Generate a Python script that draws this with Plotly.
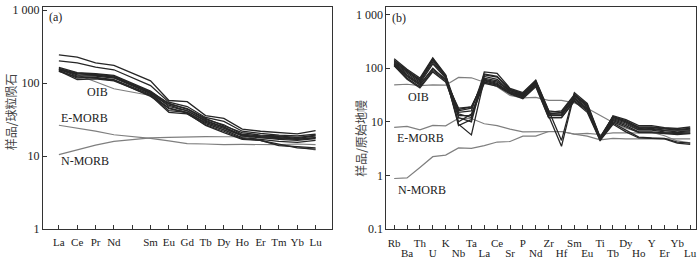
import plotly.graph_objects as go

# ---------------- data: panel (a) chondrite-normalised REE ----------------
ree_ticks = ["La", "Ce", "Pr", "Nd", "", "Sm", "Eu", "Gd", "Tb", "Dy", "Ho", "Er", "Tm", "Yb", "Lu"]
ree_elems = ["La", "Ce", "Pr", "Nd", "Sm", "Eu", "Gd", "Tb", "Dy", "Ho", "Er", "Tm", "Yb", "Lu"]

ree_samples = [
    [245, 228, 190, 176, 108, 58, 56, 36, 33, 23.5, 22, 21, 20.3, 22.5],
    [203, 190, 166, 153, 93, 55, 48, 34, 30, 22, 20.5, 19.5, 19, 20],
    [165, 140, 135, 128, 78, 52, 45, 33, 26, 21, 19.5, 19, 18, 19.5],
    [160, 130, 128, 122, 75, 48, 42, 30, 25, 19.5, 18.5, 18, 17, 18],
    [155, 125, 125, 118, 72, 45, 40, 29, 24, 19, 18, 17, 16.5, 17.5],
    [150, 118, 120, 112, 70, 42, 40, 28, 23, 18, 17, 16, 15.5, 16.5],
    [148, 112, 115, 108, 68, 40, 38, 27, 22, 17.5, 16.5, 14, 13.5, 13],
    [152, 135, 130, 120, 74, 50, 42, 31, 25, 19, 18, 17.5, 17, 18],
    [145, 122, 118, 110, 66, 46, 39, 26.5, 21, 17, 16.5, 14.5, 13, 12.5],
    [158, 138, 132, 125, 76, 53, 44, 32, 27, 20, 19, 18.5, 17.5, 19],
]
ree_oib = [156, 130, 105, 84, 68, 53, 38, 29, 23, 19.4, 16.4, 14.2, 13.4, 12.2]
ree_emorb = [26.6, 24.5, 22.1, 19.7, 17.6, 16.2, 14.9, 14.7, 14.4, 14.5, 14.4, 14.4, 14.7, 14.4]
ree_nmorb = [10.5, 12.2, 14.2, 16.0, 17.8, 18.1, 18.5, 18.6, 18.5, 18.5, 18.6, 18.5, 18.9, 18.5]

# ---------------- data: panel (b) primitive-mantle-normalised spider ----------------
spd_elems = ["Rb", "Ba", "Th", "U", "K", "Nb", "Ta", "La", "Ce", "Sr", "P", "Nd",
             "Zr", "Hf", "Sm", "Eu", "Ti", "Tb", "Dy", "Ho", "Y", "Er", "Yb", "Lu"]
spd_samples = [
    [150, 95, 65, 155, 75, 9, 5.7, 62, 55, 38, 32, 55, 13, 3.5, 33, 20, 4.6, 13, 11, 8.5, 8.5, 7.8, 7.5, 8],
    [140, 90, 60, 150, 70, 8.5, 11, 85, 80, 42, 35, 60, 16, 4.5, 35, 22, 5.2, 12.5, 10.5, 8, 8, 7.5, 7.2, 7.5],
    [130, 85, 58, 140, 72, 12, 10, 75, 68, 40, 33, 58, 15, 16, 32, 21, 5, 12, 10, 7.8, 7.5, 7, 7, 7],
    [125, 80, 55, 130, 68, 14, 12, 70, 62, 38, 32, 55, 14, 15, 30, 19, 4.8, 11.5, 9.5, 7.2, 7.2, 6.8, 6.5, 6.8],
    [120, 75, 52, 120, 65, 16, 18, 65, 58, 36, 31, 52, 14, 14, 28, 18, 5, 11, 9, 7, 7, 6.5, 6.3, 6.5],
    [115, 70, 48, 100, 60, 17, 19, 60, 52, 35, 30, 50, 13, 13, 27, 17, 4.7, 10.5, 8.5, 6.5, 6.5, 6.2, 6, 6.2],
    [112, 65, 45, 90, 58, 18, 19, 55, 48, 34, 28, 48, 12, 12, 25, 16, 4.6, 10, 8, 6.3, 6.3, 6, 5.8, 6],
    [110, 62, 43, 85, 55, 13, 13, 52, 46, 33, 27, 45, 12, 12, 24, 15, 4.5, 9, 6.5, 5, 4.9, 4.8, 4, 3.8],
    [118, 72, 50, 95, 62, 10, 14, 58, 50, 35, 29, 50, 13.5, 13.5, 27, 17, 4.6, 9.5, 7, 5.2, 5, 4.9, 4.2, 4],
    [135, 88, 62, 145, 73, 15, 16, 78, 70, 40, 34, 57, 16, 15, 31, 20, 5.1, 12.5, 10, 7.5, 7.8, 7.3, 7, 7.3],
]
spd_oib = [48.8, 50, 47, 48.6, 48, 67, 66, 54, 45, 31, 28, 28.4, 25, 25, 22.5, 17.9, 13.2, 9.7, 7.6, 6.5, 6.4, 5.5, 4.4, 4.05]
spd_emorb = [7.9, 8.2, 7.1, 8.6, 8.4, 11.6, 11.5, 9.2, 8.5, 7.3, 6.5, 6.6, 6.5, 6.6, 5.9, 5.4, 4.6, 4.9, 4.8, 4.8, 4.8, 4.8, 4.8, 4.8]
spd_nmorb = [0.88, 0.9, 1.41, 2.24, 2.4, 3.27, 3.2, 3.6, 4.2, 4.3, 5.4, 5.4, 6.6, 6.6, 5.9, 6.1, 5.8, 6.2, 6.2, 6.2, 6.2, 6.2, 6.2, 6.1]

# ---------------- style ----------------
SERIF = "Liberation Serif"
CJK = "Noto Sans CJK SC"
TXT = "#222222"
DARK = "#262626"
GREY = "#7f7f7f"

ree_x = [ree_ticks.index(e) for e in ree_elems]
spd_x = list(range(len(spd_elems)))

fig = go.Figure()

# invisible trace to carry the second-row label axis (drawn first, beneath)
fig.add_trace(go.Scatter(x=[0], y=[1], xaxis="x3", yaxis="y2", mode="markers",
                         marker=dict(opacity=0), showlegend=False, hoverinfo="skip"))

def add(x, y, xa, ya, color, width):
    fig.add_trace(go.Scatter(x=x, y=y, xaxis=xa, yaxis=ya, mode="lines",
                             line=dict(color=color, width=width), showlegend=False,
                             hoverinfo="skip"))

for ref in (ree_oib, ree_emorb, ree_nmorb):
    add(ree_x, ref, "x", "y", GREY, 1.2)
for s in ree_samples:
    add(ree_x, s, "x", "y", DARK, 1.3)

for ref in (spd_oib, spd_emorb, spd_nmorb):
    add(spd_x, ref, "x2", "y2", GREY, 1.2)
for s in spd_samples:
    add(spd_x, s, "x2", "y2", DARK, 1.3)

W, H = 700, 264
def dx(a, b):
    return [a / W, b / W]
def dy(top, bottom):
    return [(H - bottom) / H, (H - top) / H]

axis_common = dict(showline=True, linecolor="#333333", linewidth=1, mirror=True,
                   showgrid=False, zeroline=False, ticks="inside", ticklen=4,
                   tickcolor="#333333", ticklabeloverflow="allow")
xfont = dict(family=SERIF, size=11, color=TXT)
yfont = dict(family=SERIF, size=12, color=TXT)

spd_even = [e if i % 2 == 0 else "" for i, e in enumerate(spd_elems)]
odd_vals = [i for i in spd_x if i % 2 == 1]
odd_text = [spd_elems[i] for i in odd_vals]

XR2 = [-0.6, 23.45]

fig.update_layout(
    width=W, height=H, margin=dict(l=0, r=0, t=0, b=0),
    paper_bgcolor="white", plot_bgcolor="rgba(0,0,0,0)",
    xaxis=dict(domain=dx(43, 332), range=[-0.87, 14.87], anchor="y",
               tickmode="array", tickvals=list(range(15)), ticktext=ree_ticks,
               ticklabelstandoff=3, tickfont=xfont, **axis_common),
    yaxis=dict(domain=dy(3.5, 235), type="log", range=[0, 3.04], anchor="x",
               tickmode="array", tickvals=[1, 10, 100, 1000], ticktext=["1", "10", "100", "1 000"],
               tickfont=yfont, **axis_common),
    xaxis2=dict(domain=dx(387, 697), range=XR2, anchor="y2",
                tickmode="array", tickvals=spd_x, ticktext=spd_even,
                ticklabelstandoff=4, tickfont=xfont, **axis_common),
    yaxis2=dict(domain=dy(3, 235), type="log", range=[-1, 3.14], anchor="x2",
                tickmode="array", tickvals=[0.1, 1, 10, 100, 1000],
                ticktext=["0.1", "1", "10", "100", "1 000"], tickfont=yfont, **axis_common),
    xaxis3=dict(domain=dx(387, 697), anchor="y2", range=XR2, side="bottom",
                showline=False, showgrid=False, zeroline=False, ticks="",
                tickmode="array", tickvals=odd_vals, ticktext=odd_text,
                ticklabelstandoff=16, ticklabeloverflow="allow", tickfont=xfont),
)

ann = [
    # panel (a)
    dict(text="(a)", xref="paper", yref="paper", x=56 / W, y=(H - 14) / H),
    dict(text="OIB", xref="paper", yref="paper", x=98 / W, y=(H - 92) / H),
    dict(text="E-MORB", xref="paper", yref="paper", x=85 / W, y=(H - 119) / H),
    dict(text="N-MORB", xref="paper", yref="paper", x=85 / W, y=(H - 164) / H),
    # panel (b)
    dict(text="(b)", xref="paper", yref="paper", x=400 / W, y=(H - 15) / H),
    dict(text="OIB", xref="paper", yref="paper", x=419 / W, y=(H - 97) / H),
    dict(text="E-MORB", xref="paper", yref="paper", x=421 / W, y=(H - 140) / H),
    dict(text="N-MORB", xref="paper", yref="paper", x=423 / W, y=(H - 194) / H),
]
for a in ann:
    a.update(showarrow=False, xanchor="center", yanchor="middle",
             font=dict(family=SERIF, size=12, color=TXT))
    fig.add_annotation(**a)

fig.add_annotation(text="样品/球粒陨石", xref="paper", yref="paper", x=10 / W, y=(H - 112) / H,
                   textangle=-90, showarrow=False, xanchor="center", yanchor="middle",
                   font=dict(family=CJK, size=12, color="#444444"))
fig.add_annotation(text="样品/原始地幔", xref="paper", yref="paper", x=361 / W, y=(H - 140) / H,
                   textangle=-90, showarrow=False, xanchor="center", yanchor="middle",
                   font=dict(family=CJK, size=12, color="#444444"))

fig.write_html("out.html", config={"displayModeBar": False},
               post_script="document.body.style.margin='0';document.body.style.overflow='hidden';")
